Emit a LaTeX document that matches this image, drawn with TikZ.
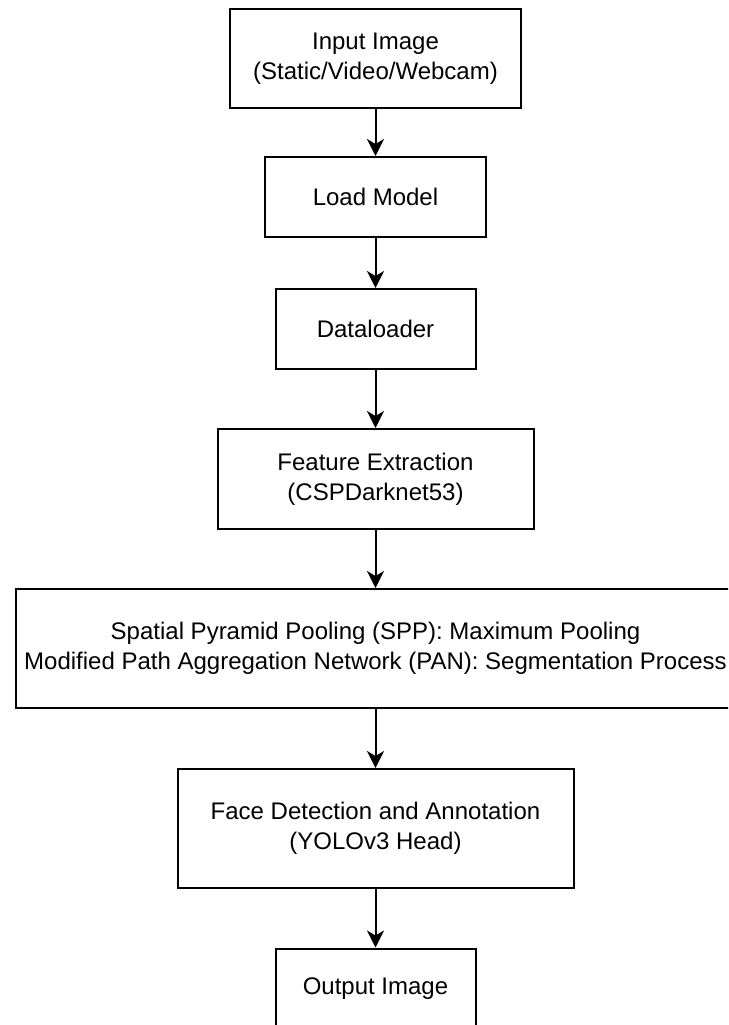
\documentclass[tikz,border=0pt]{standalone}
\usepackage{fontspec}
\setmainfont{Liberation Sans}
\usetikzlibrary{arrows.meta}
\begin{document}
\begin{tikzpicture}[x=1pt,y=-1pt,
  box/.style={draw=black, line width=2pt, fill=white, align=center,
    inner sep=0pt, font=\fontsize{24}{30}\selectfont},
  flow/.style={draw=black, line width=2pt,
    -{Stealth[length=17pt,width=17pt,inset=5pt]}}]
  \useasboundingbox (0,0) rectangle (728,1025);
  \clip (0,0) rectangle (728,1025);
  \fill[white] (0,0) rectangle (728,1025);

  \node[box, minimum width=291pt, minimum height=99pt] (input) at (375.5,58.5)
    {Input Image\\(Static/Video/Webcam)};
  \node[box, minimum width=221pt, minimum height=80pt] (load) at (375.5,197)
    {Load Model};
  \node[box, minimum width=200pt, minimum height=80pt] (data) at (375.5,329)
    {Dataloader};
  \node[box, minimum width=316pt, minimum height=100pt] (feat) at (375.5,479)
    {Feature Extraction\\(CSPDarknet53)};
  \node[box, minimum width=720pt, minimum height=119pt] (neck) at (375.5,648.5)
    {Spatial Pyramid Pooling (SPP): Maximum Pooling\\Modified Path Aggregation Network (PAN): Segmentation Process};
  \node[box, minimum width=396pt, minimum height=119pt] (head) at (375.5,828.5)
    {Face Detection and Annotation\\(YOLOv3 Head)};
  \node[box, minimum width=200pt, minimum height=80pt] (output) at (375.5,988.5)
    {Output Image};

  \draw[flow] (input) -- (load);
  \draw[flow] (load) -- (data);
  \draw[flow] (data) -- (feat);
  \draw[flow] (feat) -- (neck);
  \draw[flow] (neck) -- (head);
  \draw[flow] (head) -- (output);
\end{tikzpicture}
\end{document}
